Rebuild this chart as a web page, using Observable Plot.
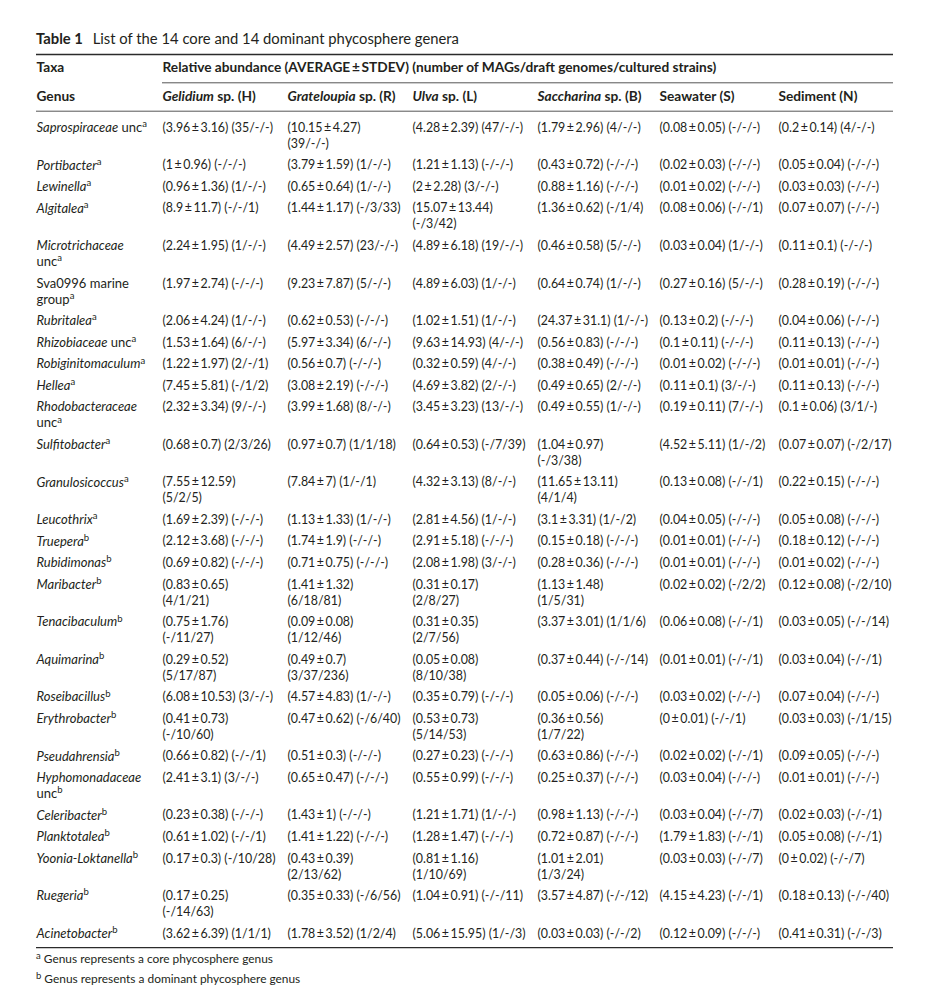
<!DOCTYPE html>
<html>
<head>
<meta charset="utf-8">
<script src="https://cdn.jsdelivr.net/npm/d3@7"></script>
<script src="https://cdn.jsdelivr.net/npm/@observablehq/plot@0.6"></script>
<style>
html, body { margin: 0; padding: 0; background: #fff; }
body { width: 943px; height: 1005px; position: relative; overflow: hidden; font-family: Lato, "Open Sans", sans-serif; color: #231f20; }
#title { position: absolute; left: 36px; top: 28px; font-size: 14.8px; line-height: 20px; white-space: nowrap; }
#title b { margin-right: 6px; }
#chart { position: absolute; left: 0; top: 48px; }
.fn { position: absolute; left: 36px; font-size: 11.9px; line-height: 14px; white-space: nowrap; }
.fn sup { font-size: 9.5px; vertical-align: 4px; line-height: 0; }
</style>
</head>
<body>
<div id="title"><b>Table 1</b> List of the 14 core and 14 dominant phycosphere genera</div>
<div id="chart"></div>
<div class="fn" style="top:952px"><sup>a</sup> Genus represents a core phycosphere genus</div>
<div class="fn" style="top:972px"><sup>b</sup> Genus represents a dominant phycosphere genus</div>
<script>
// ---------------- DATA ----------------
const genera = ["Saprospiraceae unc","Portibacter","Lewinella","Algitalea","Microtrichaceae unc","Sva0996 marine group","Rubritalea","Rhizobiaceae unc","Robiginitomaculum","Hellea","Rhodobacteraceae unc","Sulfitobacter","Granulosicoccus","Leucothrix","Truepera","Rubidimonas","Maribacter","Tenacibaculum","Aquimarina","Roseibacillus","Erythrobacter","Pseudahrensia","Hyphomonadaceae unc","Celeribacter","Planktotalea","Yoonia-Loktanella","Ruegeria","Acinetobacter"];
// a = core phycosphere genus, b = dominant phycosphere genus
const genusRole = ["a","a","a","a","a","a","a","a","a","a","a","a","a","a","b","b","b","b","b","b","b","b","b","b","b","b","b","b"];
const romanWords = new Set(["unc","Sva0996","marine","group"]);

const hostCodes = ["H","R","L","B","S","N"];
const hostNames = ["Gelidium","Grateloupia","Ulva","Saccharina","Seawater","Sediment"];
const hostIsAlga = [true,true,true,true,false,false];

const gelidiumMean = [3.96,1,0.96,8.9,2.24,1.97,2.06,1.53,1.22,7.45,2.32,0.68,7.55,1.69,2.12,0.69,0.83,0.75,0.29,6.08,0.41,0.66,2.41,0.23,0.61,0.17,0.17,3.62];
const gelidiumSd = [3.16,0.96,1.36,11.7,1.95,2.74,4.24,1.64,1.97,5.81,3.34,0.7,12.59,2.39,3.68,0.82,0.65,1.76,0.52,10.53,0.73,0.82,3.1,0.38,1.02,0.3,0.25,6.39];
const gelidiumCounts = ["35/-/-","-/-/-","1/-/-","-/-/1","1/-/-","-/-/-","1/-/-","6/-/-","2/-/1","-/1/2","9/-/-","2/3/26","5/2/5","-/-/-","-/-/-","-/-/-","4/1/21","-/11/27","5/17/87","3/-/-","-/10/60","-/-/1","3/-/-","-/-/-","-/-/1","-/10/28","-/14/63","1/1/1"];

const grateloupiaMean = [10.15,3.79,0.65,1.44,4.49,9.23,0.62,5.97,0.56,3.08,3.99,0.97,7.84,1.13,1.74,0.71,1.41,0.09,0.49,4.57,0.47,0.51,0.65,1.43,1.41,0.43,0.35,1.78];
const grateloupiaSd = [4.27,1.59,0.64,1.17,2.57,7.87,0.53,3.34,0.7,2.19,1.68,0.7,7,1.33,1.9,0.75,1.32,0.08,0.7,4.83,0.62,0.3,0.47,1,1.22,0.39,0.33,3.52];
const grateloupiaCounts = ["39/-/-","1/-/-","1/-/-","-/3/33","23/-/-","5/-/-","-/-/-","6/-/-","-/-/-","-/-/-","8/-/-","1/1/18","1/-/1","1/-/-","-/-/-","-/-/-","6/18/81","1/12/46","3/37/236","1/-/-","-/6/40","-/-/-","-/-/-","-/-/-","-/-/-","2/13/62","-/6/56","1/2/4"];

const ulvaMean = [4.28,1.21,2,15.07,4.89,4.89,1.02,9.63,0.32,4.69,3.45,0.64,4.32,2.81,2.91,2.08,0.31,0.31,0.05,0.35,0.53,0.27,0.55,1.21,1.28,0.81,1.04,5.06];
const ulvaSd = [2.39,1.13,2.28,13.44,6.18,6.03,1.51,14.93,0.59,3.82,3.23,0.53,3.13,4.56,5.18,1.98,0.17,0.35,0.08,0.79,0.73,0.23,0.99,1.71,1.47,1.16,0.91,15.95];
const ulvaCounts = ["47/-/-","-/-/-","3/-/-","-/3/42","19/-/-","1/-/-","1/-/-","4/-/-","4/-/-","2/-/-","13/-/-","-/7/39","8/-/-","1/-/-","-/-/-","3/-/-","2/8/27","2/7/56","8/10/38","-/-/-","5/14/53","-/-/-","-/-/-","1/-/-","-/-/-","1/10/69","-/-/11","1/-/3"];

const saccharinaMean = [1.79,0.43,0.88,1.36,0.46,0.64,24.37,0.56,0.38,0.49,0.49,1.04,11.65,3.1,0.15,0.28,1.13,3.37,0.37,0.05,0.36,0.63,0.25,0.98,0.72,1.01,3.57,0.03];
const saccharinaSd = [2.96,0.72,1.16,0.62,0.58,0.74,31.1,0.83,0.49,0.65,0.55,0.97,13.11,3.31,0.18,0.36,1.48,3.01,0.44,0.06,0.56,0.86,0.37,1.13,0.87,2.01,4.87,0.03];
const saccharinaCounts = ["4/-/-","-/-/-","-/-/-","-/1/4","5/-/-","1/-/-","1/-/-","-/-/-","-/-/-","2/-/-","1/-/-","-/3/38","4/1/4","1/-/2","-/-/-","-/-/-","1/5/31","1/1/6","-/-/14","-/-/-","1/7/22","-/-/-","-/-/-","-/-/-","-/-/-","1/3/24","-/-/12","-/-/2"];

const seawaterMean = [0.08,0.02,0.01,0.08,0.03,0.27,0.13,0.1,0.01,0.11,0.19,4.52,0.13,0.04,0.01,0.01,0.02,0.06,0.01,0.03,0,0.02,0.03,0.03,1.79,0.03,4.15,0.12];
const seawaterSd = [0.05,0.03,0.02,0.06,0.04,0.16,0.2,0.11,0.02,0.1,0.11,5.11,0.08,0.05,0.01,0.01,0.02,0.08,0.01,0.02,0.01,0.02,0.04,0.04,1.83,0.03,4.23,0.09];
const seawaterCounts = ["-/-/-","-/-/-","-/-/-","-/-/1","1/-/-","5/-/-","-/-/-","-/-/-","-/-/-","3/-/-","7/-/-","1/-/2","-/-/1","-/-/-","-/-/-","-/-/-","-/2/2","-/-/1","-/-/1","-/-/-","-/-/1","-/-/1","-/-/-","-/-/7","-/-/1","-/-/7","-/-/1","-/-/-"];

const sedimentMean = [0.2,0.05,0.03,0.07,0.11,0.28,0.04,0.11,0.01,0.11,0.1,0.07,0.22,0.05,0.18,0.01,0.12,0.03,0.03,0.07,0.03,0.09,0.01,0.02,0.05,0,0.18,0.41];
const sedimentSd = [0.14,0.04,0.03,0.07,0.1,0.19,0.06,0.13,0.01,0.13,0.06,0.07,0.15,0.08,0.12,0.02,0.08,0.05,0.04,0.04,0.03,0.05,0.01,0.03,0.08,0.02,0.13,0.31];
const sedimentCounts = ["4/-/-","-/-/-","-/-/-","-/-/-","-/-/-","-/-/-","-/-/-","-/-/-","-/-/-","-/-/-","3/1/-","-/2/17","-/-/-","-/-/-","-/-/-","-/-/-","-/2/10","-/-/14","-/-/1","-/-/-","-/1/15","-/-/-","-/-/-","-/-/1","-/-/1","-/-/7","-/-/40","-/-/3"];

const headerTaxa = "Taxa";
const headerGenus = "Genus";
const headerMeasure = "Relative abundance (AVERAGE\u2009±\u2009STDEV) (number of MAGs/draft genomes/cultured strains)";

// ---------------- LAYOUT (not data) ----------------
const colWidths = [126, 125, 125, 125, 122, 119, 115];
// cells whose text breaks onto a second line (G = genus column)
const wrapCells = {0:["R"],3:["L"],4:["G"],5:["G"],10:["G"],11:["B"],12:["H","B"],16:["H","R","L","B"],17:["H","R","L"],18:["H","R","L"],20:["H","L","B"],22:["G"],25:["R","L","B"],26:["H"]};
const LINE = 16, GAP = 5.55, FIRST = 79.3, SVG_H = 904;
const FONT = 12.4, GENUS_FONT = 13, HEAD_FONT = 13.7, INK = "#231f20";

const table = {
  H: [gelidiumMean, gelidiumSd, gelidiumCounts],
  R: [grateloupiaMean, grateloupiaSd, grateloupiaCounts],
  L: [ulvaMean, ulvaSd, ulvaCounts],
  B: [saccharinaMean, saccharinaSd, saccharinaCounts],
  S: [seawaterMean, seawaterSd, seawaterCounts],
  N: [sedimentMean, sedimentSd, sedimentCounts]
};

const colStart = Array.from(d3.cumsum([0, ...colWidths.slice(0, -1)]));
const rowY = [];
{
  let cursor = FIRST;
  genera.forEach((g, r) => { rowY.push(cursor); cursor += (wrapCells[r] ? 2 : 1) * LINE + GAP; });
}
const yTaxa = 18.7, yGenus = 48, yRule1 = 6, yRule2 = 34.3, yRule3 = 62.7;
const yBottom = rowY[rowY.length - 1] + 14;

// value cells
const cellLines = [];
genera.forEach((g, r) => {
  hostCodes.forEach((c, j) => {
    const [mean, sd, counts] = table[c];
    const a = `(${mean[r]}\u2009±\u2009${sd[r]})`, b = `(${counts[r]})`;
    const x = colStart[j + 1];
    if ((wrapCells[r] || []).includes(c)) {
      cellLines.push({x, y: rowY[r], text: a}, {x, y: rowY[r] + LINE, text: b});
    } else {
      cellLines.push({x, y: rowY[r], text: a + " " + b});
    }
  });
});

// rich (mixed style) text registry: plain text -> segments
const rich = new Map();
function plain(segs) { const p = segs.map(s => s.t).join(""); rich.set(p, segs); return p; }
function styleSegments(line) {
  const segs = [];
  line.split(" ").forEach((w, k) => {
    const it = !romanWords.has(w);
    const t = (k ? " " : "") + w;
    const last = segs[segs.length - 1];
    if (last && last.i === it) last.t += t; else segs.push({t, i: it});
  });
  return segs;
}

const genusLines = [];
genera.forEach((g, r) => {
  const wrap = (wrapCells[r] || []).includes("G");
  const k = g.lastIndexOf(" ");
  const lines = wrap ? [g.slice(0, k), g.slice(k + 1)] : [g];
  lines.forEach((ln, li) => {
    const segs = styleSegments(ln);
    if (li === lines.length - 1) segs.push({t: genusRole[r], sup: true});
    genusLines.push({x: colStart[0], y: rowY[r] + li * LINE, text: plain(segs)});
  });
});

const headerLines = [
  {x: colStart[0], y: yTaxa, text: headerTaxa},
  {x: colStart[1], y: yTaxa, text: headerMeasure},
  {x: colStart[0], y: yGenus, text: headerGenus},
  ...hostCodes.map((c, j) => ({
    x: colStart[j + 1], y: yGenus,
    text: plain(hostIsAlga[j] ? [{t: hostNames[j], i: true}, {t: ` sp. (${c})`}] : [{t: `${hostNames[j]} (${c})`}])
  }))
];

const total = d3.sum(colWidths);
const thickRules = [{y: yRule1, x1: 0, x2: total}, {y: yBottom, x1: 0, x2: total}];
const thinRules = [{y: yRule2, x1: colStart[1], x2: total}, {y: yRule3, x1: 0, x2: total}];

const svg = Plot.plot({
  width: 943,
  height: SVG_H,
  margin: 0,
  x: {type: "linear", domain: [0, total], range: [36, 36 + total], axis: null},
  y: {type: "linear", domain: [0, SVG_H], range: [0, SVG_H], axis: null},
  style: {fontFamily: "Lato, 'Open Sans', sans-serif", color: INK, background: "transparent", overflow: "visible"},
  marks: [
    Plot.ruleY(thickRules, {y: "y", x1: "x1", x2: "x2", stroke: "#2b2b2b", strokeWidth: 1.3}),
    Plot.ruleY(thinRules, {y: "y", x1: "x1", x2: "x2", stroke: "#2b2b2b", strokeWidth: 0.8}),
    Plot.text(cellLines, {x: "x", y: "y", text: "text", textAnchor: "start", lineAnchor: "middle", fontSize: FONT, fill: INK}),
    Plot.text(genusLines, {x: "x", y: "y", text: "text", textAnchor: "start", lineAnchor: "middle", fontSize: GENUS_FONT, fill: INK}),
    Plot.text(headerLines, {x: "x", y: "y", text: "text", textAnchor: "start", lineAnchor: "middle", fontSize: HEAD_FONT, fontWeight: "bold", fill: INK})
  ]
});

// apply mixed styles (italic names, superscript markers)
d3.select(svg).selectAll("text").each(function() {
  const segs = rich.get(this.textContent);
  if (!segs) return;
  const el = d3.select(this);
  el.text(null);
  for (const s of segs) {
    const t = el.append("tspan").text(s.t);
    if (s.i) t.attr("font-style", "italic");
    if (s.sup) t.attr("font-size", 9.5).attr("dy", -4.8);
  }
});

document.getElementById("chart").appendChild(svg);
</script>
</body>
</html>
